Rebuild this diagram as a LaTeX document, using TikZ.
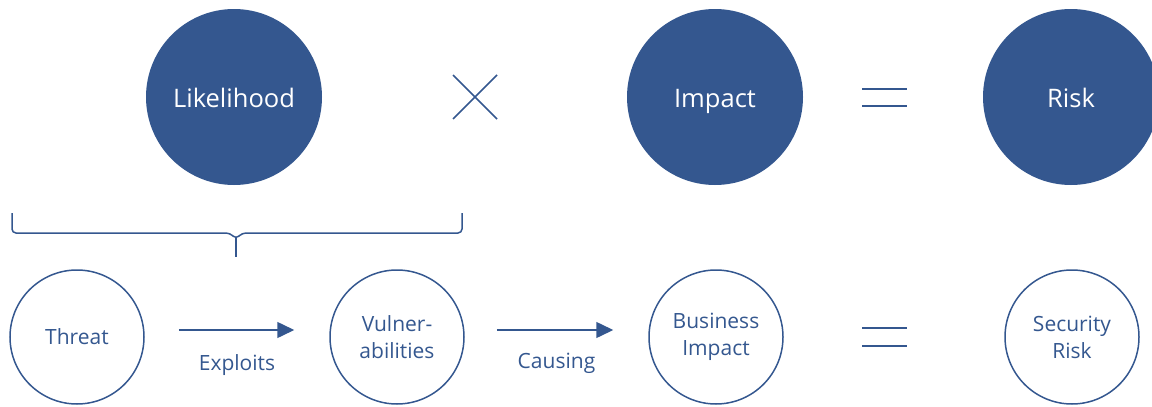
\documentclass[tikz,border=0pt]{standalone}
\usepackage{fontspec}
\setmainfont{Open Sans}
\usetikzlibrary{arrows.meta}
\definecolor{riskblue}{RGB}{52,87,143}
\tikzset{
    big/.style={circle, fill=riskblue, draw=none, minimum size=176pt,
    	inner sep=0pt, text=white, text height=22pt, text depth=2pt,
    	font=\fontsize{25.5}{30}\selectfont}
}
\tikzset{
    small/.style={circle, draw=riskblue, line width=1.5pt, minimum size=134pt,
    	inner sep=0pt, text=riskblue, align=center,
    	font=\fontsize{21}{27}\selectfont}
}
\tikzset{
    arr/.style={draw=riskblue, line width=1.5pt,
    	-{Triangle[length=17pt,width=16pt]}},
    lbl/.style={text=riskblue, font=\fontsize{21}{27}\selectfont}
}

\begin{document}
\begin{tikzpicture}[x=1pt, y=-1pt]
	\useasboundingbox (0,0) rectangle (1152,407);
	\clip (0,0) rectangle (1152,407);
	\node (lik) [big] at (234,97) {Likelihood};
	\node (imp) [big] at (715,97) {Impact};
	\node (risk) [big] at (1071,97) {Risk};
	
	\node (thr) [small] at (77,337) {Threat};
	\node (vul) [small] at (397,337) {Vulner-\\abilities};
	\node (bus) [small] at (716,337) {Business\\Impact};
	\node (sec) [small] at (1072,337) {Security\\Risk};
	
	\draw[arr, shorten <=34pt, shorten >=35pt] ([yshift=7pt]thr.east) --
		node[lbl, yshift=-35pt] {Exploits} ([yshift=7pt]vul.west);
	\draw[arr, shorten <=32pt, shorten >=35pt] ([yshift=7pt]vul.east) --
		node[lbl, yshift=-33pt] {Causing} ([yshift=7pt]bus.west);
	
	% times and equals
	\draw[riskblue, line width=1.5pt] (453,75) -- (497,119) (453,119) -- (497,75);
	\draw[riskblue, line width=1.5pt] (862,89) -- (907,89) (862,106) -- (907,106);
	\draw[riskblue, line width=1.5pt] (862,328) -- (907,328) (862,346) -- (907,346);
	
	% brace
	\draw[riskblue, line width=1.5pt, rounded corners=4pt] (12,213) -- (12,233)
		-- (230,233) -- (236,239) -- (242,233) -- (462,233) -- (462,213);
	\draw[riskblue, line width=1.5pt] (236,237) -- (236,257);
\end{tikzpicture}
\end{document}
